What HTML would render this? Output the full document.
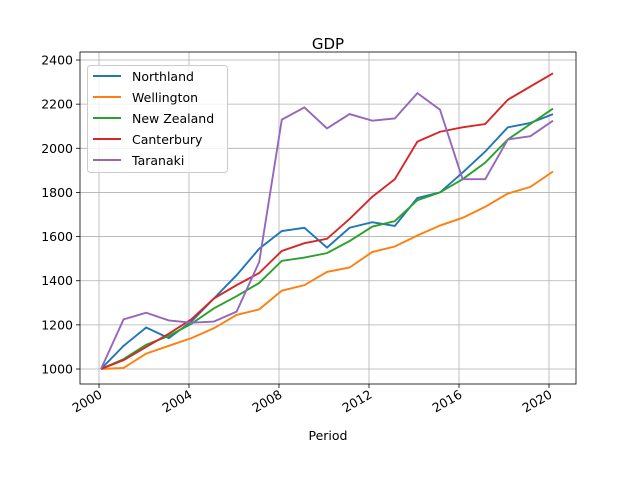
<!DOCTYPE html>
<html><head><meta charset="utf-8"><style>body{margin:0;background:#fff}svg{display:block;font-family:"DejaVu Sans","Liberation Sans",sans-serif}</style></head>
<body>
<svg id="s" width="640" height="480" viewBox="0 0 640 480" xmlns="http://www.w3.org/2000/svg">
<rect width="640" height="480" fill="#fff"/>
<text x="328" y="49" font-size="15" text-anchor="middle">GDP</text>
<g id="grid" stroke="#b0b0b0" stroke-width="0.8"></g>
<g id="lines" fill="none" stroke-width="1.9"></g>
<rect x="80" y="52" width="496" height="332" fill="none" stroke="#000" stroke-width="0.8"/>
<g id="ticks" font-size="12.5"></g>
<text x="328" y="440" font-size="12.5" text-anchor="middle">Period</text>
<g id="legend"></g>
</svg>
<script>
const ns="http://www.w3.org/2000/svg";
function el(p,t,a,txt){const e=document.createElementNS(ns,t);for(const k in a)e.setAttribute(k,a[k]);if(txt!==undefined)e.textContent=txt;document.getElementById(p).appendChild(e);return e;}
const Y=v=>369-(v-1000)*0.2207, X=i=>101+i*22.6;
for(let v=1000;v<=2400;v+=200){const y=Y(v);el("grid","line",{x1:80,x2:576,y1:y,y2:y});el("ticks","line",{x1:76,x2:80,y1:y,y2:y,stroke:"#000","stroke-width":0.8});el("ticks","text",{x:73,y:y+4.5,"text-anchor":"end"},v);}
for(let yr=2000;yr<=2020;yr+=4){const x=99+(yr-2000)*22.5;el("grid","line",{x1:x,x2:x,y1:52,y2:384});el("ticks","line",{x1:x,x2:x,y1:384,y2:388,stroke:"#000","stroke-width":0.8});el("ticks","text",{x:x+4,y:397,"text-anchor":"end",transform:`rotate(-30 ${x+4} 397)`},yr);}
const S=[["Northland","#1f77b4",[1000,1105,1188,1140,1215,1320,1425,1545,1625,1640,1550,1640,1665,1648,1775,1800,1890,1985,2095,2115,2155]],
["Wellington","#ff7f0e",[1000,1005,1070,1105,1140,1185,1245,1270,1355,1380,1440,1460,1530,1555,1605,1650,1685,1735,1795,1825,1895]],
["New Zealand","#2ca02c",[1000,1045,1110,1150,1205,1275,1330,1390,1490,1505,1525,1580,1645,1670,1765,1800,1860,1935,2040,2110,2180]],
["Canterbury","#d62728",[1000,1040,1100,1160,1225,1320,1380,1435,1535,1570,1590,1680,1780,1860,2030,2075,2095,2110,2220,2280,2340]],
["Taranaki","#9467bd",[1000,1225,1255,1220,1210,1215,1260,1485,2130,2185,2090,2155,2125,2135,2250,2175,1860,1860,2040,2055,2125]]];
el("legend","rect",{x:87.5,y:65.5,width:140,height:107,rx:3,fill:"#fff","fill-opacity":0.8,stroke:"#ccc"});
S.forEach((s,k)=>{el("lines","polyline",{stroke:s[1],points:s[2].map((v,i)=>X(i)+","+Y(v)).join(" ")});
const y=76+k*21;el("legend","line",{x1:93,x2:121,y1:y,y2:y,stroke:s[1],"stroke-width":1.9});el("legend","text",{x:132,y:y+5,"font-size":12.5},s[0]);});
</script>
</body></html>
